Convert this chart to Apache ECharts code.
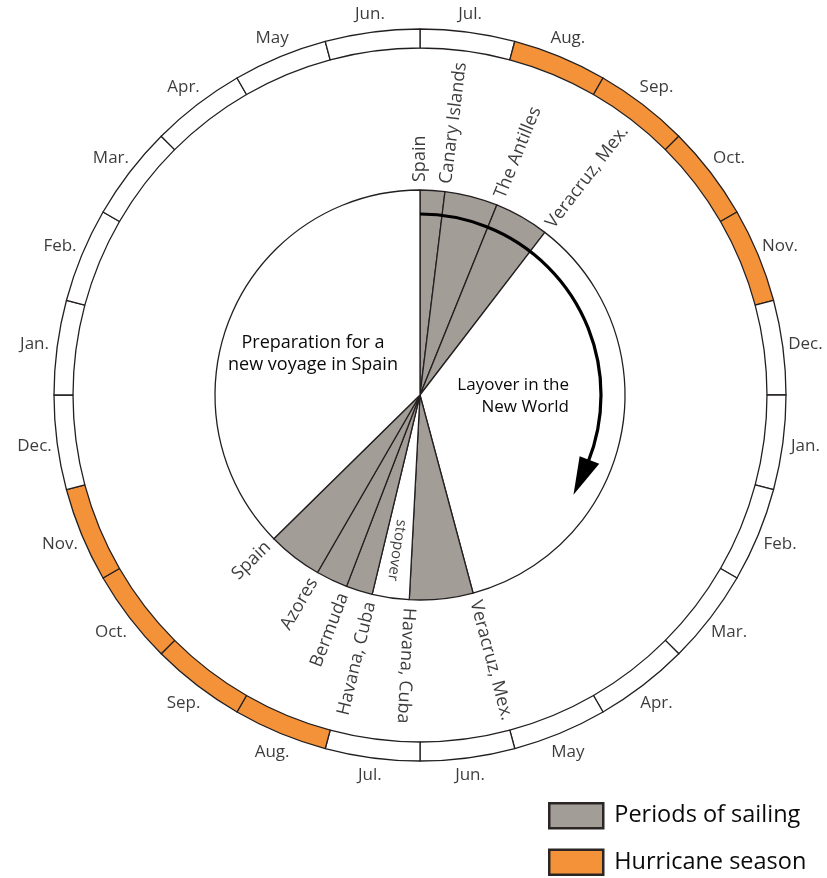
<!DOCTYPE html>
<html><head><meta charset="utf-8">
<script src="https://cdn.jsdelivr.net/npm/echarts@6/dist/echarts.min.js"></script>
<style>html,body{margin:0;padding:0;background:#fff}#c{width:827px;height:878px}</style>
</head><body><div id="c"></div>
<script>
// ---- data ----
const months = ['Jul.','Aug.','Sep.','Oct.','Nov.','Dec.','Jan.','Feb.','Mar.','Apr.','May','Jun.',
                'Jul.','Aug.','Sep.','Oct.','Nov.','Dec.','Jan.','Feb.','Mar.','Apr.','May','Jun.'];
const hurricane = [0,1,1,1,1,0,0,0,0,0,0,0, 0,1,1,1,1,0,0,0,0,0,0,0];
const stopNames = ['Spain','Canary Islands','The Antilles','Veracruz, Mex.',
                   'Veracruz, Mex.','Havana, Cuba','Havana, Cuba','Bermuda','Azores','Spain'];
const stopAngles = [0, 7, 22, 37.5, 165, 183, 193.5, 201, 210, 225.5];   // degrees clockwise from top
const segmentKinds = ['sail','sail','sail','layover','sail','stopover','sail','sail','sail','prep'];
const stopoverLabel = ['stopover', 188.5];
const arrowArc = [181, 0, 111, 123];   // radius, start angle, arc end, arrow tip
const legendNames = ['Periods of sailing','Hurricane season'];

// ---- styles ----
const C = {gray:'#a39d98', orange:'#f4923a', line:'#231f20', text:'#0a0a0a'};
const FONT = 'Open Sans';
const CX = 420, CY = 395;

const ringData = months.map((m,i)=>({name:m+i, value:1,
  itemStyle:{color: hurricane[i] ? C.orange : '#ffffff'}}));
const innerData = stopAngles.map((a,i)=>{
  const next = i < stopAngles.length-1 ? stopAngles[i+1] : 360;
  return {name:'s'+i, value: next-a,
    itemStyle:{color: segmentKinds[i]==='sail' ? C.gray : '#ffffff'}};
});
const monthLabels = months.map((m,i)=>{
  const a = i*15+7.5, rad = a*Math.PI/180;
  return {name:m, value:[375 + 7*Math.abs(Math.cos(rad)) + 13*Math.abs(Math.sin(rad)), a]};
});
const placeLabels = stopAngles.map((a,i)=>{
  const flip = a > 185;
  return {name: stopNames[i], value:[213, a],
    label:{rotate: flip ? 270-a : 90-a, align: flip ? 'right':'left'}};
});

const chart = echarts.init(document.getElementById('c'), null, {renderer:'canvas'});
chart.setOption({
  animation:false,
  backgroundColor:'#fff',
  polar:{center:[CX,CY], radius:400},
  radiusAxis:{type:'value', min:0, max:400, show:false},
  angleAxis:{type:'value', min:0, max:360, startAngle:90, clockwise:true, show:false},
  legend:{
    orient:'vertical', left:548, top:802, padding:0, itemWidth:54, itemHeight:25, itemGap:19,
    icon:'rect', selectedMode:false,
    textStyle:{fontFamily:FONT, fontSize:23.5, color:C.text, padding:[0,0,0,6], lineHeight:25},
    data:[
      {name:legendNames[0], itemStyle:{color:C.gray, opacity:1, borderColor:'#2b2624', borderWidth:2.5}},
      {name:legendNames[1], itemStyle:{color:C.orange, opacity:1, borderColor:'#2b2624', borderWidth:2.5}}
    ]
  },
  graphic:[
    {type:'text', x:313, y:354, z:100, silent:true,
     style:{text:'Preparation for a\nnew voyage in Spain', align:'center', verticalAlign:'middle',
            font:'18px "Open Sans"', fill:C.text, lineHeight:22}},
    {type:'text', x:569, y:396, z:100, silent:true,
     style:{text:'Layover in the\nNew World', align:'right', verticalAlign:'middle',
            font:'17px "Open Sans"', fill:C.text, lineHeight:22}}
  ],
  series:[
    {type:'pie', center:[CX,CY], radius:[347,366], startAngle:90, clockwise:true, silent:true, z:1,
     label:{show:false}, labelLine:{show:false},
     itemStyle:{borderColor:C.line, borderWidth:1.3}, data:ringData},
    {type:'pie', center:[CX,CY], radius:[0,205], startAngle:90, clockwise:true, silent:true, z:1,
     label:{show:false}, labelLine:{show:false},
     itemStyle:{borderColor:C.line, borderWidth:1.3}, data:innerData},
    {type:'scatter', coordinateSystem:'polar', symbolSize:0, silent:true, z:5,
     label:{show:true, position:'inside', formatter:'{b}', fontFamily:FONT, fontSize:17,
            color:C.text, align:'center', verticalAlign:'middle'},
     data:monthLabels},
    {type:'scatter', coordinateSystem:'polar', symbolSize:0, silent:true, z:5,
     label:{show:true, position:'inside', formatter:'{b}', fontFamily:FONT, fontSize:18,
            color:C.text, verticalAlign:'middle'},
     data:placeLabels},
    {type:'scatter', coordinateSystem:'polar', symbolSize:0, silent:true, z:5,
     label:{show:true, position:'inside', formatter:'{b}', fontFamily:FONT, fontSize:15,
            color:C.text, align:'center', verticalAlign:'middle', rotate:90-stopoverLabel[1]},
     data:[{name:stopoverLabel[0], value:[157, stopoverLabel[1]]}]},
    {type:'custom', coordinateSystem:'polar', silent:true, z:10, data:[arrowArc],
     renderItem:function(params, api){
       const r = api.value(0), a0 = api.value(1), a1 = api.value(2), a2 = api.value(3);
       const c = api.coord([0,0]);
       const p = api.coord([r, 0]);
       const rp = Math.hypot(p[0]-c[0], p[1]-c[1]);
       const toRad = d => (d-90)*Math.PI/180;
       return {type:'group', children:[
         {type:'arc', shape:{cx:c[0], cy:c[1], r:rp, startAngle:toRad(a0), endAngle:toRad(a1+1), clockwise:true},
          style:{stroke:'#000', lineWidth:3.2, fill:null}},
         {type:'polygon', shape:{points:[api.coord([r-10, a1]), api.coord([r+11, a1]), api.coord([r+2, a2])]},
          style:{fill:'#000'}}
       ]};
     }},
    {type:'scatter', name:legendNames[0], coordinateSystem:'polar', data:[], itemStyle:{color:C.gray, opacity:1}},
    {type:'scatter', name:legendNames[1], coordinateSystem:'polar', data:[], itemStyle:{color:C.orange, opacity:1}}
  ]
});
</script></body></html>
